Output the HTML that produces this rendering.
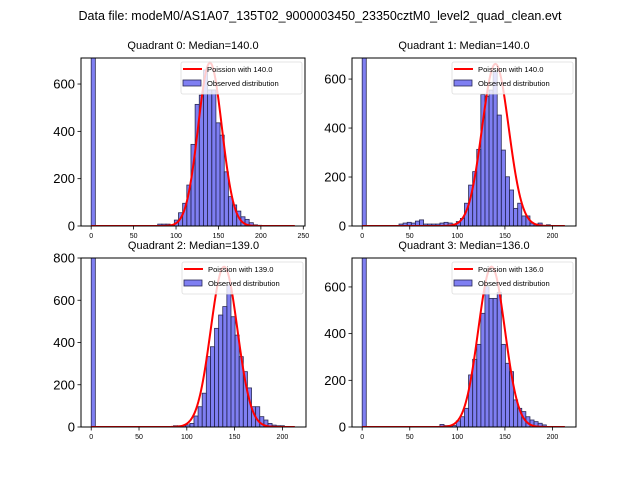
<!DOCTYPE html>
<html><head><meta charset="utf-8"><style>
html,body{margin:0;padding:0;background:#fff}
svg{display:block;font-family:"Liberation Sans","DejaVu Sans",sans-serif}
</style></head><body>
<svg id="chart" width="640" height="480" viewBox="0 0 640 480">
<text x="320" y="20" font-size="12.5" text-anchor="middle">Data file: modeM0/AS1A07_135T02_9000003450_23350cztM0_level2_quad_clean.evt</text>
</svg>
<script>
// ---- data ----
const quadrantNames = ["Quadrant 0: Median=140.0","Quadrant 1: Median=140.0","Quadrant 2: Median=139.0","Quadrant 3: Median=136.0"];
const poissonMeans = [140.0, 140.0, 139.0, 136.0];
const poissonPeaks = [690, 662, 759, 687];
const poissonWidths = [14, 14, 14, 14];
const curveMax = [240, 213, 213, 213];
const binWidths = [4.9, 4.3, 4.3, 4.3];
const zeroBinCounts = [3000, 3000, 3000, 3000];
const firstBinIndex = [16, 9, 20, 19];
const q0Counts = [8,8,8,5,25,56,96,173,345,514,553,659,575,575,436,384,229,124,89,63,39,28,14,5,3];
const q1Counts = [8,12,15,12,20,25,8,8,8,8,12,15,12,8,18,31,93,167,222,313,537,530,555,630,453,310,201,147,72,93,41,41,12,8,12,0,5];
const q2Counts = [6,6,6,10,17,52,96,160,333,380,467,530,570,672,522,435,333,262,185,96,96,49,33,17,9,6,6];
const q3Counts = [11,6,6,6,26,44,80,223,290,354,487,601,551,551,577,354,273,237,116,80,66,44,30,23,16,9];
const yMaxes = [710, 686, 800, 724];
const yTicks = [[0,200,400,600],[0,200,400,600],[0,200,400,600,800],[0,200,400,600]];
const xTicks = [[0,50,100,150,200,250],[0,50,100,150,200],[0,50,100,150,200],[0,50,100,150,200]];
const xLims = [[-12,252],[-10.7,224.7],[-10.7,224.7],[-10.7,224.7]];
const allCounts = [q0Counts, q1Counts, q2Counts, q3Counts];
// ---- layout ----
const boxes = [[81,58,305,226],[352,58,576,226],[81,258,306,427],[352,258,576,427]];
const NS = "http://www.w3.org/2000/svg";
const svg = document.getElementById('chart');
function mk(tag, attrs, parent){const e=document.createElementNS(NS,tag);for(const k in attrs)e.setAttribute(k,attrs[k]);(parent||svg).appendChild(e);return e;}
for(let q=0;q<4;q++){
  const [L,T,R,B]=boxes[q];
  const [x0,x1]=xLims[q];
  const sx=v=>L+(v-x0)/(x1-x0)*(R-L);
  const sy=v=>B-v/yMaxes[q]*(B-T);
  const g=mk('g',{});
  
  
  const cid='clip'+q;
  const cp=mk('clipPath',{id:cid},g);
  mk('rect',{x:L,y:T,width:R-L,height:B-T},cp);
  const bars=mk('g',{'clip-path':'url(#'+cid+')'},g);
  
  
  const w=binWidths[q];
  const drawBar=(start,val)=>{
    if(val<=0)return;
    const r=mk('rect',{x:sx(start),y:sy(val),width:sx(start+w)-sx(start),height:sy(0)-sy(val),fill:'rgba(0,0,230,0.5)',stroke:'#2a2a55','stroke-width':0.8},bars);
    
    
  };
  drawBar(0,zeroBinCounts[q]);
  allCounts[q].forEach((c,i)=>drawBar((firstBinIndex[q]+i)*w,c));
  let d='';
  const lam=poissonMeans[q], sg=poissonWidths[q];
  for(let x=0;x<=curveMax[q];x+=1){
    const y=poissonPeaks[q]*Math.exp(-(x-lam)*(x-lam)/(2*sg*sg));
    d+=(x===0?'M':'L')+sx(x).toFixed(2)+','+sy(y).toFixed(2);
  }
  const p=mk('path',{d:d,fill:'none',stroke:'#ff0000','stroke-width':2},bars);
  
  
  const fr=mk('rect',{x:L,y:T,width:R-L,height:B-T,fill:'none',stroke:'#000','stroke-width':1},g);
  
  
  yTicks[q].forEach(t=>{
    const y=sy(t);
    mk('line',{x1:L-3.5,x2:L,y1:y,y2:y,stroke:'#000','stroke-width':0.8},g);
    const tx=mk('text',{x:L-6,y:y+4.5,'font-size':13,'text-anchor':'end'},g);
    tx.textContent=t;
    
    
  });
  xTicks[q].forEach(t=>{
    const x=sx(t);
    mk('line',{x1:x,x2:x,y1:B,y2:B+3.5,stroke:'#000','stroke-width':0.8},g);
    const tx=mk('text',{x:x,y:B+12,'font-size':7,'text-anchor':'middle'},g);
    tx.textContent=t;
    
    
  });
  const ti=mk('text',{x:(L+R)/2,y:T-9,'font-size':11,'text-anchor':'middle'},g);
  ti.textContent=quadrantNames[q];
  
  
  const lg=mk('g',{},g);
  
  
  const lx=R-124, ly=T+4;
  mk('rect',{x:lx,y:ly,width:121,height:32,rx:2,fill:'rgba(255,255,255,0.8)',stroke:'#ddd','stroke-width':0.8},lg);
  mk('line',{x1:lx+2,x2:lx+21,y1:ly+7,y2:ly+7,stroke:'#ff0000','stroke-width':2},lg);
  const t1=mk('text',{x:lx+26,y:ly+10,'font-size':7.6},lg);
  t1.textContent='Poission with '+poissonMeans[q].toFixed(1);
  
  
  mk('rect',{x:lx+2,y:ly+18,width:18,height:6,fill:'rgba(0,0,230,0.5)',stroke:'#2a2a55','stroke-width':0.8},lg);
  const t2=mk('text',{x:lx+26,y:ly+24,'font-size':7.6},lg);
  t2.textContent='Observed distribution';
  
  
}
</script>
</body></html>
